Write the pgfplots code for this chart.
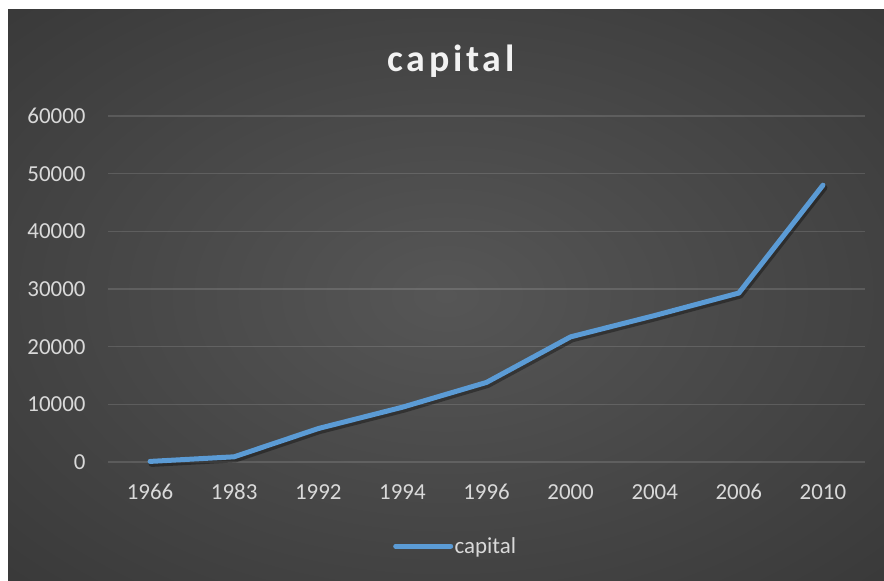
\documentclass[border=0pt]{standalone}
\usepackage{pgfplots}
\pgfplotsset{compat=1.18}
\usepackage{fontspec}
\setmainfont{Carlito}
\newfontfamily\titlefont[LetterSpace=10]{Carlito}
\definecolor{linecol}{RGB}{91,155,213}
\definecolor{ticktext}{RGB}{217,217,217}
\definecolor{titletext}{RGB}{242,242,242}
\definecolor{bgin}{RGB}{86,86,86}
\definecolor{bgmid}{RGB}{46,46,46}
\definecolor{bgout}{RGB}{36,36,36}
\pgfdeclareradialshading{chartbg}{\pgfpoint{0bp}{0bp}}{color(0bp)=(bgin); color(50bp)=(bgmid); color(72bp)=(bgout)}
\begin{document}
\begin{tikzpicture}[x=1bp,y=1bp]
\fill[white] (0,0) rectangle (884,581);
\shade[shading=chartbg] (8,0) rectangle (884,571);
\node[anchor=base, text=titletext, font=\fontsize{38}{44}\titlefont\bfseries] at (451,509) {capital};
\begin{axis}[
  scale only axis,
  width=757bp, height=346bp,
  at={(108bp,119bp)}, anchor=south west,
  xmin=-0.5, xmax=8.5,
  ymin=0, ymax=60000,
  xtick={0,...,8},
  xticklabels={1966,1983,1992,1994,1996,2000,2004,2006,2010},
  ytick={0,10000,20000,30000,40000,50000,60000},
  scaled y ticks=false,
  /pgf/number format/assume math mode=true,
  yticklabel style={/pgf/number format/1000 sep={}, xshift=-19bp},
  xticklabel style={anchor=base, yshift=-38bp},
  ticklabel style={font=\fontsize{23}{27}\selectfont, text=ticktext},
  axis line style={draw=none},
  tick style={draw=none},
  ymajorgrids,
  major grid style={draw=white, draw opacity=0.13, line width=1.2bp},
  clip=false,
  legend style={at={(axis description cs:0.3765,-0.243)}, anchor=west, draw=none, fill=none, inner sep=0pt,
    font=\fontsize{23}{27}\selectfont, text=ticktext, nodes={inner sep=1.5bp}},
  legend image code/.code={\draw[#1, line width=5bp, line cap=round] (0bp,0bp) -- (55bp,0bp);},
]
\addplot[black, opacity=0.35, line width=6bp, line join=round, line cap=round, xshift=1.5bp, yshift=-2.5bp, forget plot]
  coordinates {(0,100) (1,900) (2,5800) (3,9500) (4,13800) (5,21700) (6,25400) (7,29300) (8,48000)};
\addplot[linecol, line width=5bp, line join=round, line cap=round]
  coordinates {(0,100) (1,900) (2,5800) (3,9500) (4,13800) (5,21700) (6,25400) (7,29300) (8,48000)};
\addlegendentry{capital}
\end{axis}
\end{tikzpicture}
\end{document}
